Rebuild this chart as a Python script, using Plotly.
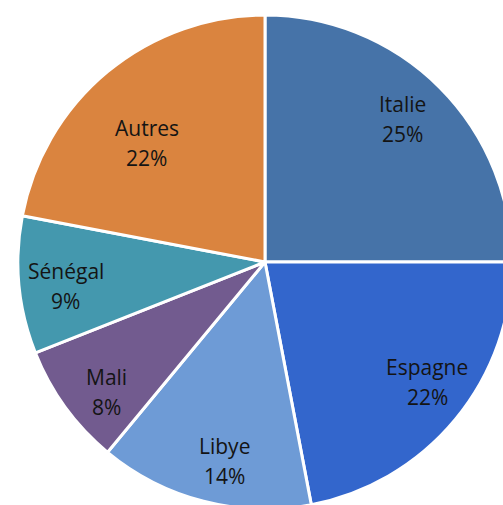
import math
import plotly.graph_objects as go

labels = ["Italie", "Espagne", "Libye", "Mali", "Sénégal", "Autres"]
values = [25, 22, 14, 8, 9, 22]
colors = ["#4673A8", "#3366CC", "#6E9BD6", "#725B8F", "#4498AE", "#DA843F"]
# label placement (style): radial fraction and pixel nudges
label_r = [0.82, 0.82, 0.82, 0.83, 0.81, 0.68]
nudge_x = [-6, 6, 10, 7, 0, -11]
nudge_y = [0, 9, -3, -9, -5, -10]

fig = go.Figure(go.Pie(
    labels=labels,
    values=values,
    sort=False,
    direction="clockwise",
    rotation=0,
    marker=dict(colors=colors, line=dict(color="white", width=3)),
    textinfo="none",
    showlegend=False,
    hoverinfo="label+percent",
))

total = sum(values)
cum = 0
font = dict(family="Open Sans", size=21, color="#141414")
for lab, v, fr, nx, ny in zip(labels, values, label_r, nudge_x, nudge_y):
    mid = (cum + v / 2) / total * 2 * math.pi
    cum += v
    x = 0.5 + 0.5 * fr * math.sin(mid)
    y = 0.5 + 0.5 * fr * math.cos(mid)
    for txt, dy in ((lab, 15), (f"{round(v / total * 100)}%", -15)):
        fig.add_annotation(
            x=x, y=y, xref="paper", yref="paper",
            text=txt, showarrow=False, font=font,
            xanchor="center", yanchor="middle",
            xshift=nx, yshift=ny + dy,
        )

fig.update_layout(
    width=520, height=515,
    margin=dict(l=18, r=8, t=15, b=6),
    paper_bgcolor="white",
    plot_bgcolor="white",
)

fig.write_html(
    "out.html",
    config={"displayModeBar": False},
    post_script="document.body.style.margin='0';document.body.style.overflow='hidden';document.documentElement.style.overflow='hidden';",
)
